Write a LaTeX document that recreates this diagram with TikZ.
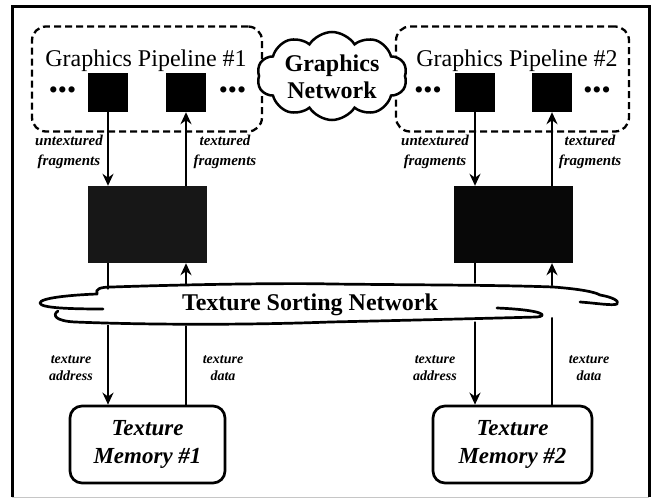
\documentclass[tikz,border=0pt]{standalone}
\usepackage{fontspec}
\setmainfont{Liberation Serif}
\usetikzlibrary{arrows.meta,shapes.symbols}
\begin{document}
\begin{tikzpicture}[x=1bp,y=-1bp,
  frame/.style={line width=3bp},
  pipebox/.style={draw, line width=2.3bp, dash pattern=on 7bp off 4bp, rounded corners=14bp, inner sep=0},
  unit/.style={fill=black, minimum width=40bp, minimum height=39bp, inner sep=0},
  sorter/.style={minimum width=119bp, minimum height=77bp, inner sep=0},
  memory/.style={draw, line width=2.7bp, rounded corners=12bp, minimum height=77bp, inner sep=0,
    align=center, font=\fontsize{23bp}{28bp}\selectfont\bfseries\itshape},
  flow/.style={line width=2.6bp, -{Stealth[length=12bp,width=11bp]}},
  lbl/.style={align=center, inner sep=0, font=\fontsize{15bp}{20bp}\selectfont\bfseries\itshape},
  lblsmall/.style={align=center, inner sep=0, font=\fontsize{14bp}{17bp}\selectfont\bfseries\itshape},
  title/.style={inner sep=0, font=\fontsize{24bp}{26bp}\selectfont},
  dots/.style={inner sep=0, font=\fontsize{26bp}{28bp}\selectfont},
  netline/.style={line width=2.7bp, line cap=round, line join=round},
]
\useasboundingbox (0,0) rectangle (654,500);

% outer frame
\draw[frame] (12,497) -- (12,7) -- (649,7) -- (649,497);
\draw[gray!45, line width=1bp] (12,497) -- (649,497);

% graphics pipelines
\node[pipebox, minimum width=230bp, minimum height=105bp] (pipe1) at (147,79) {};
\node[pipebox, minimum width=233bp, minimum height=105bp] (pipe2) at (512.5,79) {};
\node[title, anchor=base] (t1) at (146,67) {Graphics Pipeline \#1};
\node[title, anchor=base] (t2) at (517,67) {Graphics Pipeline \#2};

\node[unit] (u1a) at (108,92.5) {};
\node[unit] (u1b) at (186,92.5) {};
\node[unit] (u2a) at (475,92.5) {};
\node[unit] (u2b) at (552,92.5) {};

\node[dots] (d1l) at (62.5,93) {•••};
\node[dots] (d1r) at (232.5,93) {•••};
\node[dots] (d2l) at (428,93) {•••};
\node[dots] (d2r) at (597,93) {•••};

% graphics network cloud
\node[cloud, draw, fill=white, line width=2.5bp, cloud puffs=10, cloud puff arc=115, aspect=1.7,
  minimum width=150bp, minimum height=88bp, inner sep=0] (gnet) at (332,76) {};
\node[align=center, inner sep=0, font=\fontsize{24bp}{27bp}\selectfont\bfseries] (gnett) at (332,77) {Graphics\\Network};

% texture sorting blocks
\node[sorter, fill=black!91] (s1) at (147.5,224.5) {};
\node[sorter, fill=black!97] (s2) at (513,224.5) {};

% texture memories
\node[memory, minimum width=155bp] (m1) at (147.5,444.5) {Texture\\Memory \#1};
\node[memory, minimum width=159bp] (m2) at (512.5,444.5) {Texture\\Memory \#2};

% fragment flow
\draw[flow] (u1a.south) -- (u1a.south |- s1.north);
\draw[flow] (s1.north -| u1b) -- (u1b.south);
\draw[flow] (u2a.south) -- (u2a.south |- s2.north);
\draw[flow] (s2.north -| u2b) -- (u2b.south);

% texture flow
\draw[flow] (s1.south -| u1a) -- (m1.north -| u1a);
\draw[flow] (m1.north -| u1b) -- (s1.south -| u1b);
\draw[flow] (s2.south -| u2a) -- (m2.north -| u2a);
\draw[flow] (m2.north -| u2b) -- (s2.south -| u2b);

% texture sorting network cloud
\fill[white] plot[smooth cycle, tension=0.6] coordinates
  {(40,303) (100,290) (320,283) (553,286) (618,303) (545,318) (330,325) (65,323)};
\draw[netline] (103,309) .. controls (70,309) and (40,308) .. (40,303)
  .. controls (40,298) and (70,295) .. (97,294)
  .. controls (95,289) and (100,287) .. (112,287)
  .. controls (200,284) and (300,283) .. (330,284)
  .. controls (420,285) and (500,285) .. (553,287)
  .. controls (580,289) and (595,292) .. (600,295)
  .. controls (612,297) and (620,301) .. (617,304)
  .. controls (613,306) and (595,303) .. (580,302);
\draw[netline] (58,311) .. controls (52,315) and (55,321) .. (75,322)
  .. controls (150,325) and (250,325) .. (330,322)
  .. controls (420,320) and (500,318) .. (537,317)
  .. controls (548,316) and (545,310) .. (497,308);
\node[inner sep=0, font=\fontsize{24bp}{26bp}\selectfont\bfseries] (tsn) at (310,305) {Texture Sorting Network};

% labels
\node[lbl] (l1) at (69,152) {untextured\\fragments};
\node[lbl] (l2) at (225,152) {textured\\fragments};
\node[lbl] (l3) at (435,152) {untextured\\fragments};
\node[lbl] (l4) at (590,152) {textured\\fragments};
\node[lblsmall] (a1) at (71,368) {texture\\address};
\node[lblsmall] (b1) at (223,368) {texture\\data};
\node[lblsmall] (a2) at (435,368) {texture\\address};
\node[lblsmall] (b2) at (589,368) {texture\\data};
\end{tikzpicture}
\end{document}
